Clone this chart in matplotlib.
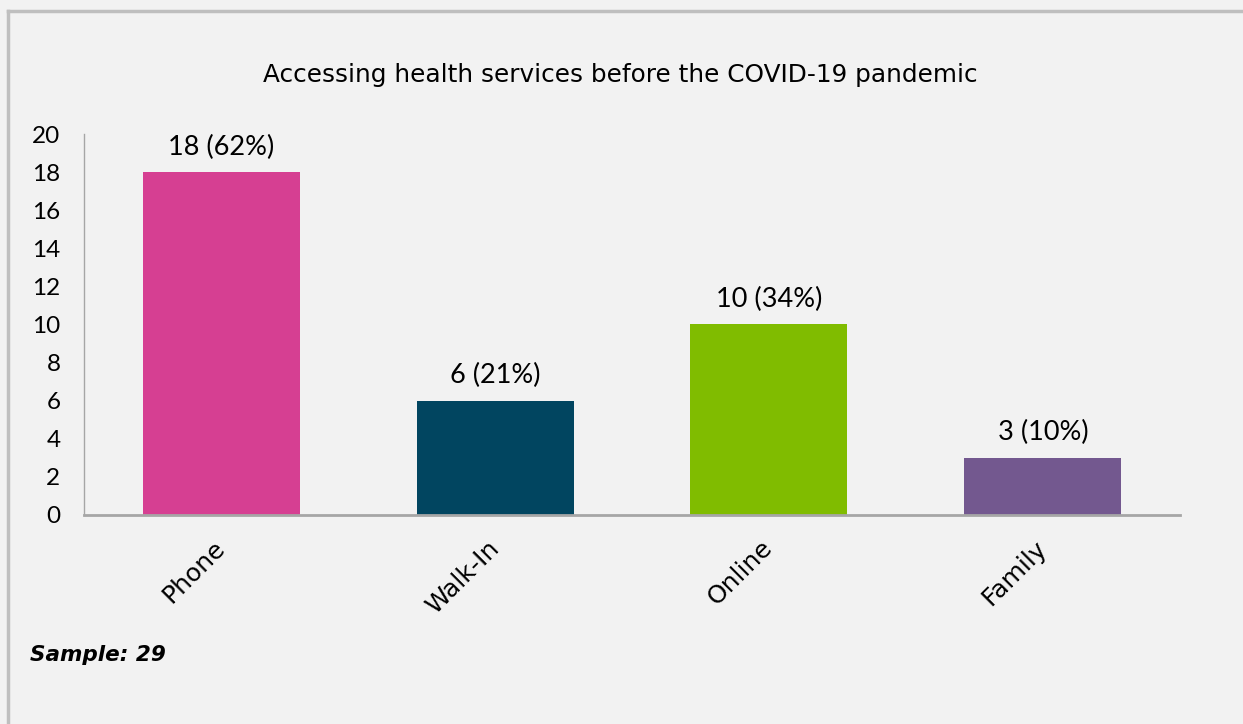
import matplotlib.pyplot as plt
from matplotlib.lines import Line2D
from matplotlib.transforms import ScaledTranslation

# --- Data ---
categories = ["Phone", "Walk-In", "Online", "Family"]
counts = [18, 6, 10, 3]
percents = [62, 21, 34, 10]
bar_colors = ["#D63F92", "#014560", "#80BC00", "#73588F"]
yticks = list(range(0, 21, 2))
title = "Accessing health services before the COVID-19 pandemic"
sample_size = 29

BG = "#F2F2F2"
NUM_FONT = ["Lato", "DejaVu Sans"]
TXT_FONT = ["DejaVu Sans"]

fig = plt.figure(figsize=(12.43, 7.24), dpi=100, facecolor=BG)
ax = fig.add_axes([0.0676, 0.2887, 0.8817, 0.5262])
ax.set_facecolor(BG)

x = range(len(categories))
bars = ax.bar(x, counts, width=0.573, color=bar_colors, zorder=2)

# value labels above each bar
for rect, n, p in zip(bars, counts, percents):
    ax.annotate(f"{n} ({p}%)", (rect.get_x() + rect.get_width() / 2, n),
                xytext=(0, 9), textcoords="offset points",
                ha="center", va="bottom", fontsize=19.5, family=NUM_FONT)

ax.set_xlim(-0.5, len(categories) - 0.5)
ax.set_ylim(0, 20)
ax.set_yticks(yticks)
ax.set_yticklabels([str(t) for t in yticks], fontsize=17.5, family=NUM_FONT)
ax.set_xticks(list(x))
ax.set_xticklabels(categories, rotation=45, ha="right", va="top",
                   rotation_mode="anchor", fontsize=18, family=TXT_FONT)
ax.tick_params(axis="y", length=0, pad=17)
ax.tick_params(axis="x", length=0, pad=15)

# nudge the rotated category labels a little to the left
shift = ScaledTranslation(-6 / 72, 0, fig.dpi_scale_trans)
for lbl in ax.get_xticklabels():
    lbl.set_transform(lbl.get_transform() + shift)

for side in ["top", "right"]:
    ax.spines[side].set_visible(False)
ax.spines["left"].set_color("#A6A6A6")
ax.spines["left"].set_linewidth(1.0)
ax.spines["bottom"].set_color("#A6A6A6")
ax.spines["bottom"].set_linewidth(2.0)

fig.text(0.499, 0.896, title, ha="center", va="center", fontsize=17.8, family=TXT_FONT)
fig.text(0.024, 0.095, f"Sample: {sample_size}", ha="left", va="center",
         fontsize=15.5, fontweight="bold", fontstyle="italic", family=TXT_FONT)

# outer frame (top and left edges)
fig.add_artist(Line2D([0.0068, 0.0068], [0, 0.985], transform=fig.transFigure,
                      color="#BFBFBF", lw=2.5))
fig.add_artist(Line2D([0.0068, 1], [0.985, 0.985], transform=fig.transFigure,
                      color="#BFBFBF", lw=2.5))

fig.savefig("out.png", dpi=100, facecolor=BG)
